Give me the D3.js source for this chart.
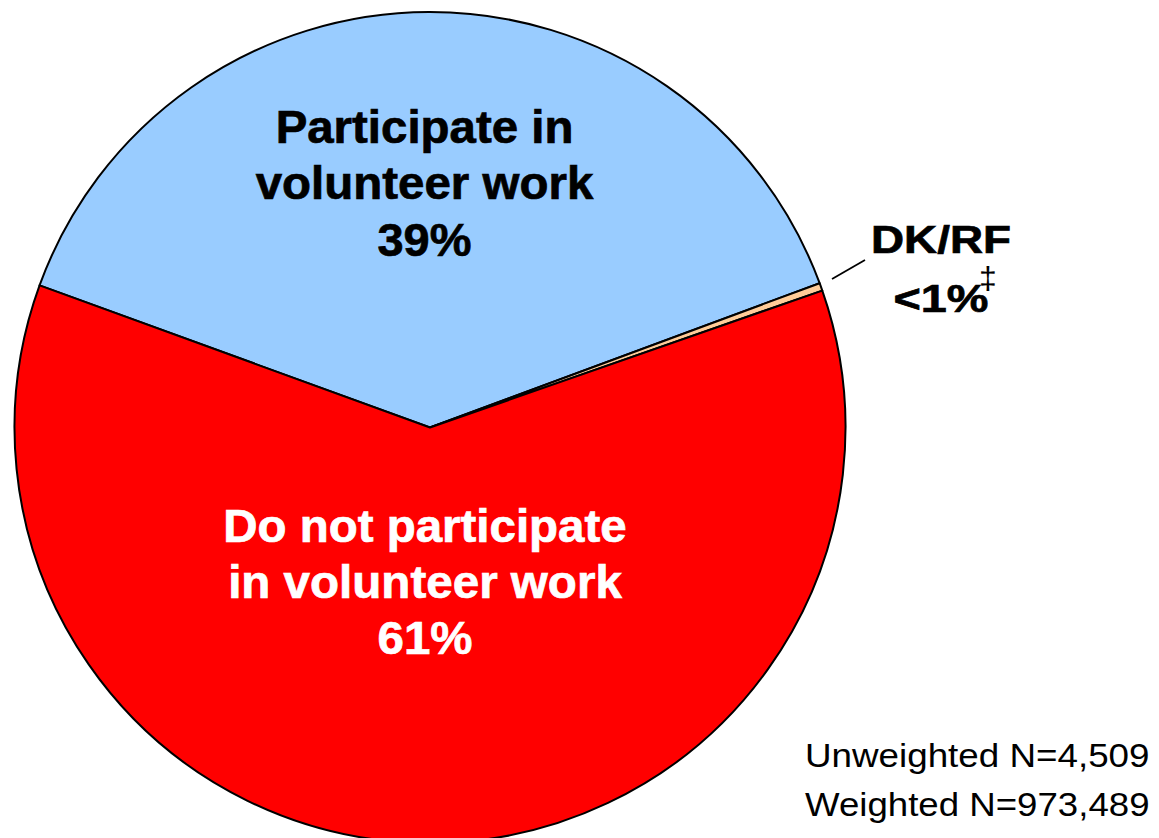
<!DOCTYPE html>
<html>
<head>
<meta charset="utf-8">
<script src="https://cdn.jsdelivr.net/npm/d3@7"></script>
<style>
  html, body { margin: 0; padding: 0; background: #fff; }
  svg { display: block; }
  text { font-family: "Liberation Sans", Arial, sans-serif; }
</style>
</head>
<body>
<svg id="chart" width="1159" height="838"></svg>
<script>
// Data
const categories = ["Participate in volunteer work", "DK/RF", "Do not participate in volunteer work"];
const values = [38.8, 0.3, 60.9];
const colors = ["#99CCFF", "#FFCC99", "#FF0000"];
const labelLines = [
  ["Participate in", "volunteer work", "39%"],
  ["DK/RF", "<1%"],
  ["Do not participate", "in volunteer work", "61%"]
];
const footnotes = ["Unweighted N=4,509", "Weighted N=973,489"];

const svg = d3.select("#chart");
const cx = 430, cy = 427.5, r = 415.5;
const startDeg = -70;

const pie = d3.pie().sort(null).value(d => d)
  .startAngle(startDeg * Math.PI / 180)
  .endAngle((startDeg + 360) * Math.PI / 180);
const arc = d3.arc().innerRadius(0).outerRadius(r);

const g = svg.append("g").attr("transform", `translate(${cx},${cy})`);
g.selectAll("path").data(pie(values)).join("path")
  .attr("d", arc)
  .attr("fill", (d, i) => colors[i])
  .attr("stroke", "#000")
  .attr("stroke-width", 2)
  .attr("stroke-linejoin", "round");

// Slice labels
function block(lines, x, baselines, size, widths, fill) {
  lines.forEach((t, i) => {
    svg.append("text")
      .attr("x", x).attr("y", baselines[i])
      .attr("text-anchor", "middle")
      .attr("font-size", size)
      .attr("font-weight", "bold")
      .attr("fill", fill)
      .attr("stroke", fill)
      .attr("stroke-width", 0.7)
      .attr("textLength", widths[i])
      .attr("lengthAdjust", "spacingAndGlyphs")
      .text(t);
  });
}
block(labelLines[0], 424.5, [143, 198.5, 255.7], 45.5, [297.7, 337.7, 94], "#000");
block(labelLines[2], 425, [542.3, 598.3, 654.3], 45.5, [403.4, 393.7, 95], "#fff");
block(labelLines[1], 941, [253.3, 311.7], 39, [140, 95], "#000");

// dagger
svg.append("text")
  .attr("x", 988).attr("y", 289)
  .attr("text-anchor", "middle")
  .attr("font-size", 32)
  .attr("fill", "#000")
  .text("\u2021");

// leader line
svg.append("line")
  .attr("x1", 832).attr("y1", 279)
  .attr("x2", 865).attr("y2", 260)
  .attr("stroke", "#000").attr("stroke-width", 1.8);

// footnotes
footnotes.forEach((t, i) => {
  svg.append("text")
    .attr("x", 1149.5).attr("y", [766.7, 816][i])
    .attr("text-anchor", "end")
    .attr("font-size", 32.5)
    .attr("fill", "#000")
    .attr("textLength", [344.5, 344.5][i])
    .attr("lengthAdjust", "spacingAndGlyphs")
    .text(t);
});
</script>
</body>
</html>
